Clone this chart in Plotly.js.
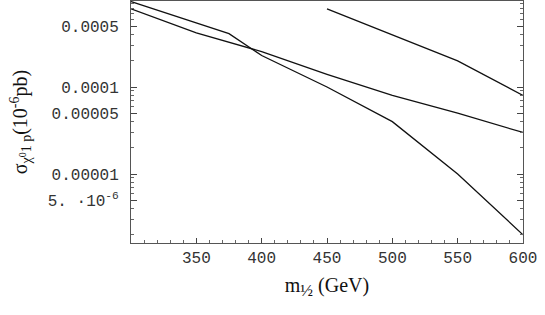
<!DOCTYPE html>
<html>
<head>
<meta charset="utf-8">
<script src="https://cdn.plot.ly/plotly-3.0.1.min.js"></script>
<style>html,body{margin:0;padding:0;background:#fff;}#chart{width:545px;height:315px;}</style>
</head>
<body>
<div id="chart"></div>
<script>
// m_1/2 values (GeV)
var xA = [300, 350, 375, 400, 450, 500, 550, 600];
var sigmaA = [9.6e-4, 5.4e-4, 4.1e-4, 2.3e-4, 1.0e-4, 4.0e-5, 1.0e-5, 2.0e-6];
var xB = [300, 350, 400, 450, 500, 550, 600];
var sigmaB = [7.9e-4, 4.2e-4, 2.55e-4, 1.4e-4, 8.0e-5, 5.0e-5, 3.0e-5];
var xC = [450, 500, 550, 600];
var sigmaC = [7.9e-4, 4.0e-4, 2.0e-4, 8.0e-5];

var yTickVals = [5e-6, 1e-5, 5e-5, 1e-4, 5e-4];
var yTickText = ['5. \u00b710<sup>-6</sup>', '0.00001', '0.00005', '0.0001', '0.0005'];
var yMinorVals = [2e-6, 3e-6, 4e-6, 6e-6, 7e-6, 8e-6, 9e-6, 2e-5, 3e-5, 4e-5, 6e-5, 7e-5, 8e-5, 9e-5, 2e-4, 3e-4, 4e-4, 6e-4, 7e-4, 8e-4, 9e-4];
var xTickVals = [350, 400, 450, 500, 550, 600];
var xTickText = ['350', '400', '450', '500', '550', '600'];

var lineStyle = {color: '#111', width: 1.3};
var traces = [
  {x: xA, y: sigmaA, mode: 'lines', line: lineStyle, hoverinfo: 'skip'},
  {x: xB, y: sigmaB, mode: 'lines', line: lineStyle, hoverinfo: 'skip'},
  {x: xC, y: sigmaC, mode: 'lines', line: lineStyle, hoverinfo: 'skip'}
];

var tickFont = {family: 'Liberation Mono, Courier New, monospace', size: 16, color: '#333'};
var layout = {
  width: 545, height: 315,
  margin: {l: 131, r: 22, t: 1, b: 72},
  paper_bgcolor: '#fff', plot_bgcolor: '#fff',
  showlegend: false,
  xaxis: {
    range: [300, 600],
    tickmode: 'array', tickvals: xTickVals, ticktext: xTickText,
    ticks: 'inside', ticklen: 5, tickcolor: '#444', tickwidth: 1,
    minor: {tickmode: 'linear', tick0: 300, dtick: 10, ticks: 'inside', ticklen: 3, tickcolor: '#666'},
    showgrid: false, zeroline: false,
    showline: true, linecolor: '#555', linewidth: 1, mirror: true,
    tickfont: tickFont,
    title: {text: 'm<sub><span style="font-size:17px">\u00bd</span></sub> (GeV)', font: {family: 'Liberation Serif, Times New Roman, serif', size: 20, color: '#111'}, standoff: 10}
  },
  yaxis: {
    type: 'log',
    range: [-5.793, -3.0115],
    tickmode: 'array', tickvals: yTickVals, ticktext: yTickText,
    ticks: 'inside', ticklen: 6, tickcolor: '#444', tickwidth: 1,
    minor: {tickmode: 'array', tickvals: yMinorVals, ticks: 'inside', ticklen: 3, tickcolor: '#666'},
    showgrid: false, zeroline: false,
    showline: true, linecolor: '#555', linewidth: 1, mirror: 'ticks',
    tickfont: tickFont,
    ticklabelstandoff: 8,
    title: {text: '\u03c3<sub>\u03c7<sup>0</sup>1 p</sub>(10<sup>-6</sup>pb)', font: {family: 'Liberation Serif, Times New Roman, serif', size: 20, color: '#111'}, standoff: 14}
  }
};

Plotly.newPlot('chart', traces, layout, {staticPlot: true});
</script>
</body>
</html>
